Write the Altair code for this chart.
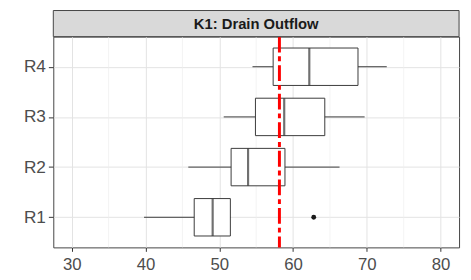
import altair as alt
import pandas as pd

# ---- data ----
groups = ["R1", "R2", "R3", "R4"]
whisker_lo = [39.8, 45.8, 50.6, 54.5]
q1 = [46.6, 51.6, 54.9, 57.3]
median = [49.1, 53.9, 58.8, 62.2]
q3 = [51.5, 58.9, 64.3, 68.8]
whisker_hi = [51.5, 66.3, 69.7, 72.7]
outlier_group = ["R1"]
outlier_value = [62.8]
ref_value = [58.15]
strip_label = ["K1: Drain Outflow"]
major_ticks = [30, 40, 50, 60, 70, 80]
minor_ticks = [35, 45, 55, 65, 75]

W, H = 412, 214
order = ["R4", "R3", "R2", "R1"]

box = pd.DataFrame({"group": groups, "lo": whisker_lo, "q1": q1,
                    "med": median, "q3": q3, "hi": whisker_hi})
outl = pd.DataFrame({"group": outlier_group, "v": outlier_value})
ref = pd.DataFrame({"v": ref_value})
minor = pd.DataFrame({"v": minor_ticks})
strip = pd.DataFrame({"label": strip_label})

xscale = alt.Scale(domain=[27.5, 82.5], nice=False, zero=False)
yscale = alt.Scale(type="point", domain=order, padding=0.6)

xaxis = alt.Axis(values=major_ticks, title=None, grid=True, gridColor="#E3E3E3",
                 gridWidth=1, domain=False, tickColor="#333333", tickSize=4,
                 labelFontSize=17, labelColor="#4D4D4D", labelPadding=5)
yaxis = alt.Axis(title=None, grid=True, gridColor="#E3E3E3", gridWidth=1,
                 domain=False, tickColor="#333333", tickSize=5,
                 labelFontSize=17.5, labelColor="#4D4D4D", labelPadding=3)

base = alt.Chart(box)

minor_grid = alt.Chart(minor).mark_rule(color="#EEEEEE", strokeWidth=0.7).encode(
    x=alt.X("v:Q", scale=xscale, axis=xaxis)
)

whisk = base.mark_rule(color="#3a3a3a", strokeWidth=1).encode(
    x=alt.X("lo:Q", scale=xscale, axis=xaxis),
    x2="hi:Q",
    y=alt.Y("group:N", scale=yscale, axis=yaxis, sort=order),
)

boxes = base.mark_bar(size=38, fill="white", stroke="#3a3a3a", strokeWidth=1).encode(
    x=alt.X("q1:Q", scale=xscale),
    x2="q3:Q",
    y=alt.Y("group:N", scale=yscale, sort=order),
)

med = base.mark_tick(size=38, thickness=2.2, color="#333333").encode(
    x=alt.X("med:Q", scale=xscale),
    y=alt.Y("group:N", scale=yscale, sort=order),
)

pts = alt.Chart(outl).mark_circle(size=24, color="#1A1A1A", opacity=1).encode(
    x=alt.X("v:Q", scale=xscale),
    y=alt.Y("group:N", scale=yscale, sort=order),
)

refline = alt.Chart(ref).mark_rule(color="#FF0000", strokeWidth=3,
                                   strokeDash=[16, 4, 5, 4]).encode(
    x=alt.X("v:Q", scale=xscale)
)

strip_bg = alt.Chart(strip).mark_rect(fill="#D9D9D9", stroke="#444444",
                                      strokeWidth=1, clip=False).encode(
    x=alt.value(0), x2=alt.value(W), y=alt.value(-26.5), y2=alt.value(0)
)
strip_txt = alt.Chart(strip).mark_text(fontSize=15, fontWeight="bold",
                                       color="#1A1A1A", baseline="middle",
                                       clip=False).encode(
    x=alt.value(W / 2), y=alt.value(-13), text="label:N"
)

chart = alt.layer(minor_grid, whisk, boxes, med, pts, refline, strip_bg, strip_txt).properties(
    width=W, height=H,
    autosize=alt.AutoSizeParams(type="none"),
    padding={"left": 46, "top": 27, "right": 4, "bottom": 28},
).configure(font="Liberation Sans").configure_view(
    stroke="#444444", strokeWidth=1
)

chart.save("out.html", embed_options={"renderer": "svg", "actions": False})
